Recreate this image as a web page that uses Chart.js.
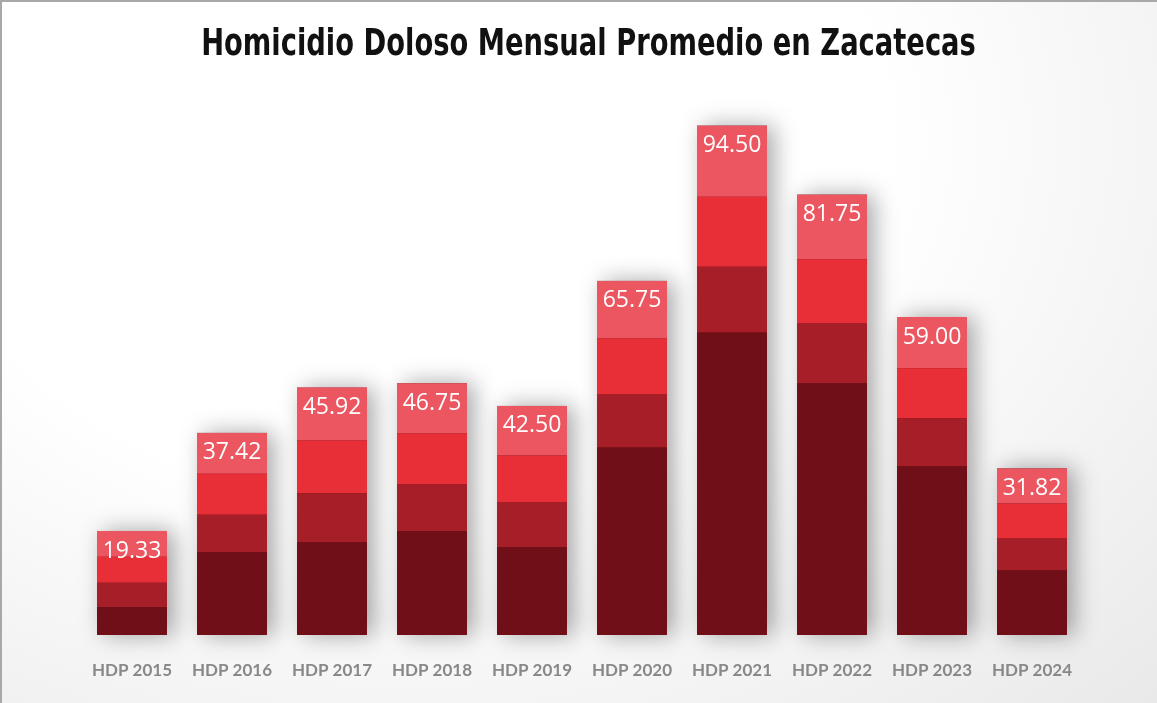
<!DOCTYPE html>
<html lang="es">
<head>
<meta charset="utf-8">
<title>Homicidio Doloso Mensual Promedio en Zacatecas</title>
<script src="https://cdn.jsdelivr.net/npm/chart.js@4.4.1/dist/chart.umd.min.js"></script>
<style>
    html, body {
        margin: 0;
        padding: 0;
    }
    body {
        width: 1157px;
        height: 703px;
        overflow: hidden;
        background: radial-gradient(ellipse at 35% 20%, #ffffff 45%, #e9e9e9 100%);
    }
    .chart-box {
        position: relative;
        width: 1157px;
        height: 703px;
        box-shadow: inset 2px 2px 0 #a8a8a8;
    }
</style>
</head>
<body>
<div class="chart-box">
    <canvas id="homicidiosChart" aria-label="Homicidio Doloso Mensual Promedio en Zacatecas"></canvas>
</div>
<script>
// Datos
const titulo = 'Homicidio Doloso Mensual Promedio en Zacatecas';
const categorias = ['HDP 2015', 'HDP 2016', 'HDP 2017', 'HDP 2018', 'HDP 2019',
                    'HDP 2020', 'HDP 2021', 'HDP 2022', 'HDP 2023', 'HDP 2024'];
const tramoOscuro = [5.2, 15.4, 17.2, 19.3, 16.3, 34.8, 56.1, 46.7, 31.3, 12.0];
const tramoMedio  = [4.5, 6.9, 9.1, 8.7, 8.3, 9.8, 12.2, 11.1, 8.9, 5.9];
const tramoRojo   = [4.8, 7.6, 9.8, 9.4, 8.7, 10.4, 13.0, 11.9, 9.3, 6.5];
const tramoClaro  = [4.8, 7.6, 9.8, 9.3, 9.2, 10.7, 13.2, 12.0, 9.5, 6.5];
const totales     = ['19.33', '37.42', '45.92', '46.75', '42.50',
                     '65.75', '94.50', '81.75', '59.00', '31.82'];

// Título condensado (la fuente original es angosta)
const tituloAngosto = {
    id: 'tituloAngosto',
    afterDraw(chart) {
        const ctx = chart.ctx;
        ctx.save();
        ctx.translate(chart.width / 2 + 10, 45);
        ctx.scale(0.8, 1);
        ctx.fillStyle = '#111111';
        ctx.font = 'bold 38px "DejaVu Sans Condensed", "DejaVu Sans", sans-serif';
        ctx.textAlign = 'center';
        ctx.textBaseline = 'middle';
        ctx.fillText(titulo, 0, 0);
        ctx.restore();
    }
};

// Sombra detrás de cada barra completa
const sombraBarras = {
    id: 'sombraBarras',
    beforeDatasetsDraw(chart) {
        const ctx = chart.ctx;
        const n = chart.data.datasets.length;
        const base = chart.getDatasetMeta(0).data;
        const top = chart.getDatasetMeta(n - 1).data;
        ctx.save();
        ctx.shadowColor = 'rgba(0, 0, 0, 0.35)';
        ctx.shadowBlur = 22;
        ctx.shadowOffsetX = 7;
        ctx.shadowOffsetY = 0;
        ctx.fillStyle = '#710f19';
        top.forEach((bar, i) => {
            const b = base[i].base;
            ctx.fillRect(bar.x - bar.width / 2, bar.y, bar.width, b - bar.y);
        });
        ctx.restore();
    }
};

// Etiquetas de total arriba de cada barra
const etiquetasTotal = {
    id: 'etiquetasTotal',
    afterDatasetsDraw(chart) {
        const ctx = chart.ctx;
        const n = chart.data.datasets.length;
        const top = chart.getDatasetMeta(n - 1).data;
        ctx.save();
        ctx.fillStyle = '#ffffff';
        ctx.font = '23px "Open Sans", Roboto, sans-serif';
        ctx.textAlign = 'center';
        ctx.textBaseline = 'middle';
        top.forEach((bar, i) => {
            ctx.fillText(totales[i], bar.x, bar.y + 20);
        });
        ctx.restore();
    }
};

document.addEventListener('DOMContentLoaded', function() {
    const ctx = document.getElementById('homicidiosChart').getContext('2d');
    new Chart(ctx, {
        type: 'bar',
        data: {
            labels: categorias,
            datasets: [
                { data: tramoOscuro, backgroundColor: '#710f19' },
                { data: tramoMedio,  backgroundColor: '#a61e27' },
                { data: tramoRojo,   backgroundColor: '#e82f37' },
                { data: tramoClaro,  backgroundColor: '#eb5660' }
            ]
        },
        options: {
            responsive: true,
            maintainAspectRatio: false,
            animation: false,
            datasets: {
                bar: {
                    categoryPercentage: 1,
                    barPercentage: 0.7,
                    borderWidth: 0
                }
            },
            layout: {
                padding: { left: 82, right: 75, top: 96, bottom: 23 }
            },
            plugins: {
                legend: { display: false },
                tooltip: { enabled: false },
                title: { display: false }
            },
            scales: {
                x: {
                    stacked: true,
                    grid: { display: false, drawTicks: false },
                    border: { display: false },
                    ticks: {
                        color: '#888888',
                        padding: 25,
                        font: { family: 'Lato, sans-serif', size: 17, weight: 'bold' }
                    },
                    afterFit(scale) {
                        scale.height = 45;
                    }
                },
                y: {
                    stacked: true,
                    display: false,
                    min: 0,
                    max: 100
                }
            }
        },
        plugins: [sombraBarras, etiquetasTotal, tituloAngosto]
    });
});
</script>
</body>
</html>
